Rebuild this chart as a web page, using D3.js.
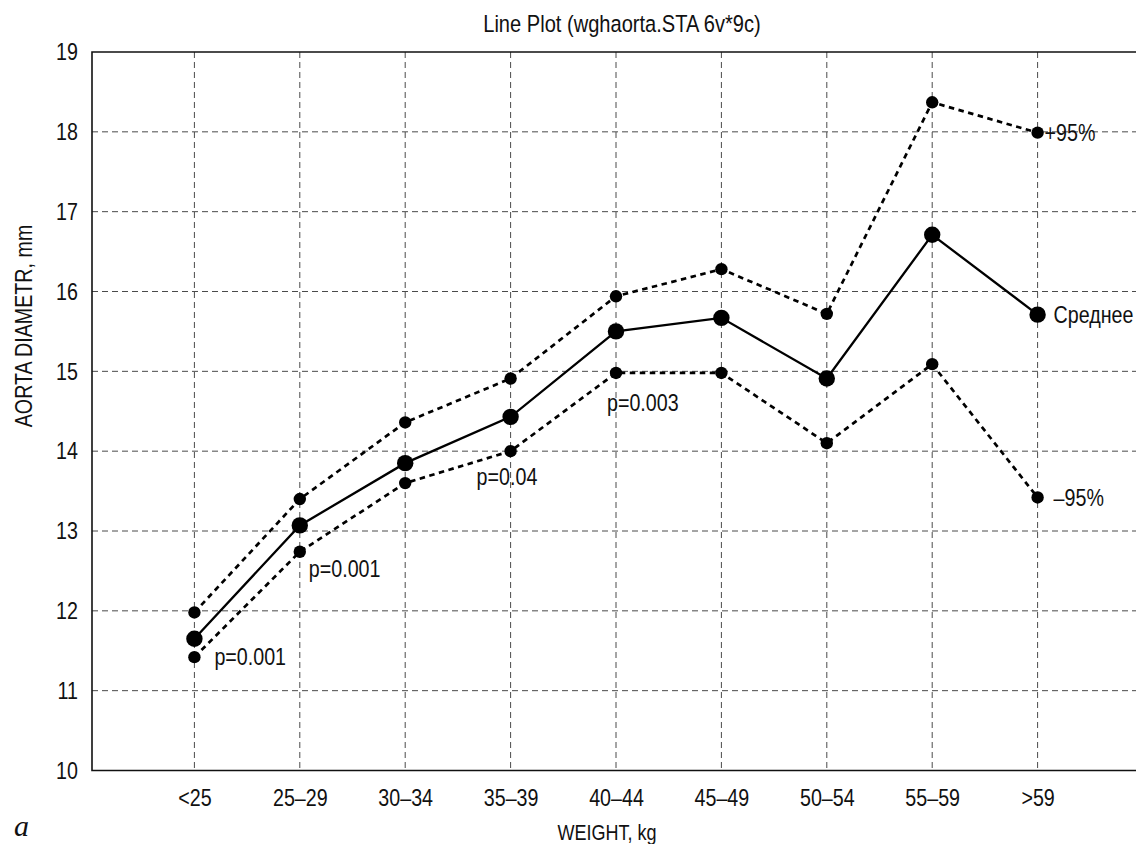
<!DOCTYPE html>
<html>
<head>
<meta charset="utf-8">
<script src="https://cdn.jsdelivr.net/npm/d3@7"></script>
<style>
  html, body { margin: 0; padding: 0; background: #fff; }
  svg { display: block; }
  .lbl { font-family: "Liberation Sans", Arial, sans-serif; fill: #111; }
</style>
</head>
<body>
<svg id="chart" width="1136" height="844"></svg>
<script>
// Weight groups (kg)
const categories = ["<25", "25–29", "30–34", "35–39", "40–44", "45–49", "50–54", "55–59", ">59"];
// Aortic diameter, mm: group means and 95% confidence limits
const meanValues  = [11.65, 13.07, 13.85, 14.43, 15.50, 15.67, 14.91, 16.71, 15.71];
const upperValues = [11.98, 13.40, 14.36, 14.91, 15.94, 16.28, 15.72, 18.37, 17.99];
const lowerValues = [11.42, 12.74, 13.60, 14.00, 14.98, 14.98, 14.10, 15.09, 13.42];
const yTicks = [10, 11, 12, 13, 14, 15, 16, 17, 18, 19];

// Significance notes attached to points of the lower limit
const pNotes = [
  { cat: "<25",   text: "p=0.001" },
  { cat: "25–29", text: "p=0.001" },
  { cat: "35–39", text: "p=0.04" },
  { cat: "40–44", text: "p=0.003" }
];
const pOffsets = [[20, -1], [9, 17], [-34, 25], [-9, 29]];

const titleText = "Line Plot (wghaorta.STA 6v*9c)";
const xTitle = "WEIGHT, kg";
const yTitle = "AORTA DIAMETR, mm";
const seriesLabels = ["+95%", "Среднее", "–95%"];

const svg = d3.select("#chart");
const plotLeft = 92, plotTop = 52, plotBottom = 770.5, plotRight = 1136;
const squeeze = 0.82; // condensed lettering

const x = d3.scalePoint().domain(categories).range([89, 1143]).padding(1);
const y = d3.scaleLinear().domain([10, 19]).range([plotBottom, plotTop]);

// Moves a text's x/y into a transform so it can be narrowed horizontally
function condense(sel, extra) {
  sel.each(function () {
    const t = d3.select(this);
    const tx = +t.attr("x") || 0, ty = +t.attr("y") || 0;
    t.attr("x", 0).attr("y", 0)
     .attr("transform", `translate(${tx},${ty})${extra || ""} scale(${squeeze},1)`);
  });
}

// grid
const grid = svg.append("g");
grid.selectAll("line.h").data(yTicks.filter(t => t > 10 && t < 19)).join("line")
  .attr("x1", plotLeft).attr("x2", plotRight)
  .attr("y1", d => y(d)).attr("y2", d => y(d))
  .attr("stroke", "#4a4a4a").attr("stroke-width", 1).attr("stroke-dasharray", "6,4");
grid.selectAll("line.v").data(categories).join("line")
  .attr("x1", d => x(d)).attr("x2", d => x(d))
  .attr("y1", plotTop).attr("y2", plotBottom)
  .attr("stroke", "#4a4a4a").attr("stroke-width", 1).attr("stroke-dasharray", "6,4");

// frame: top, left, bottom
svg.append("path")
  .attr("d", `M${plotRight},${plotTop}H${plotLeft}V${plotBottom}H${plotRight}`)
  .attr("fill", "none").attr("stroke", "#111").attr("stroke-width", 1.6);

// axis labels (no tick marks)
const yAxis = d3.axisLeft(y).tickValues(yTicks).tickSize(0).tickPadding(14);
svg.append("g").attr("transform", `translate(${plotLeft},0)`).call(yAxis)
  .call(g => g.select(".domain").remove())
  .selectAll("text").attr("class", "lbl").attr("font-size", 24).attr("fill", "#111")
  .call(condense);

const xAxis = d3.axisBottom(x).tickSize(0).tickPadding(18);
svg.append("g").attr("transform", `translate(0,${plotBottom})`).call(xAxis)
  .call(g => g.select(".domain").remove())
  .selectAll("text").attr("class", "lbl").attr("font-size", 24).attr("fill", "#111")
  .call(condense);

// series: confidence limits dashed, mean solid
const line = d3.line().x((d, i) => x(categories[i])).y(d => y(d));
const series = [
  { values: upperValues, dash: "5.5,4.5", r: 6.2, width: 2.7 },
  { values: lowerValues, dash: "5.5,4.5", r: 6.2, width: 2.7 },
  { values: meanValues,  dash: null,      r: 8.2, width: 2.3 }
];
series.forEach(s => {
  svg.append("path").datum(s.values)
    .attr("d", line).attr("fill", "none").attr("stroke", "#000")
    .attr("stroke-width", s.width).attr("stroke-dasharray", s.dash);
  svg.append("g").selectAll("circle").data(s.values).join("circle")
    .attr("cx", (d, i) => x(categories[i])).attr("cy", d => y(d))
    .attr("r", s.r).attr("fill", "#000");
});

// right-hand series labels
const last = categories.length - 1;
const labelData = [
  { text: seriesLabels[0], v: upperValues[last], dx: 7 },
  { text: seriesLabels[1], v: meanValues[last],  dx: 16 },
  { text: seriesLabels[2], v: lowerValues[last], dx: 16 }
];
svg.append("g").selectAll("text").data(labelData).join("text")
  .attr("class", "lbl").attr("font-size", 24)
  .attr("x", d => x(categories[last]) + d.dx).attr("y", d => y(d.v))
  .attr("dy", "0.36em").text(d => d.text)
  .call(condense);

// p-value notes
svg.append("g").selectAll("text").data(pNotes).join("text")
  .attr("class", "lbl").attr("font-size", 24)
  .attr("x", (d, i) => x(d.cat) + pOffsets[i][0])
  .attr("y", (d, i) => y(lowerValues[categories.indexOf(d.cat)]) + pOffsets[i][1])
  .attr("dy", "0.36em").text(d => d.text)
  .call(condense);

// titles
svg.append("text").attr("class", "lbl").attr("font-size", 24.5)
  .attr("x", 622).attr("y", 32).attr("text-anchor", "middle").text(titleText)
  .call(condense);
svg.append("text").attr("class", "lbl").attr("font-size", 22)
  .attr("x", 607).attr("y", 840).attr("text-anchor", "middle").text(xTitle)
  .call(condense);
svg.append("text").attr("class", "lbl").attr("font-size", 24)
  .attr("x", 32).attr("y", 326).attr("text-anchor", "middle").text(yTitle)
  .call(condense, " rotate(-90)");

// panel letter
svg.append("text").attr("x", 14).attr("y", 836)
  .attr("font-family", "Liberation Serif, Times New Roman, serif").attr("font-style", "italic")
  .attr("font-size", 30).attr("fill", "#111").text("a");
</script>
</body>
</html>
